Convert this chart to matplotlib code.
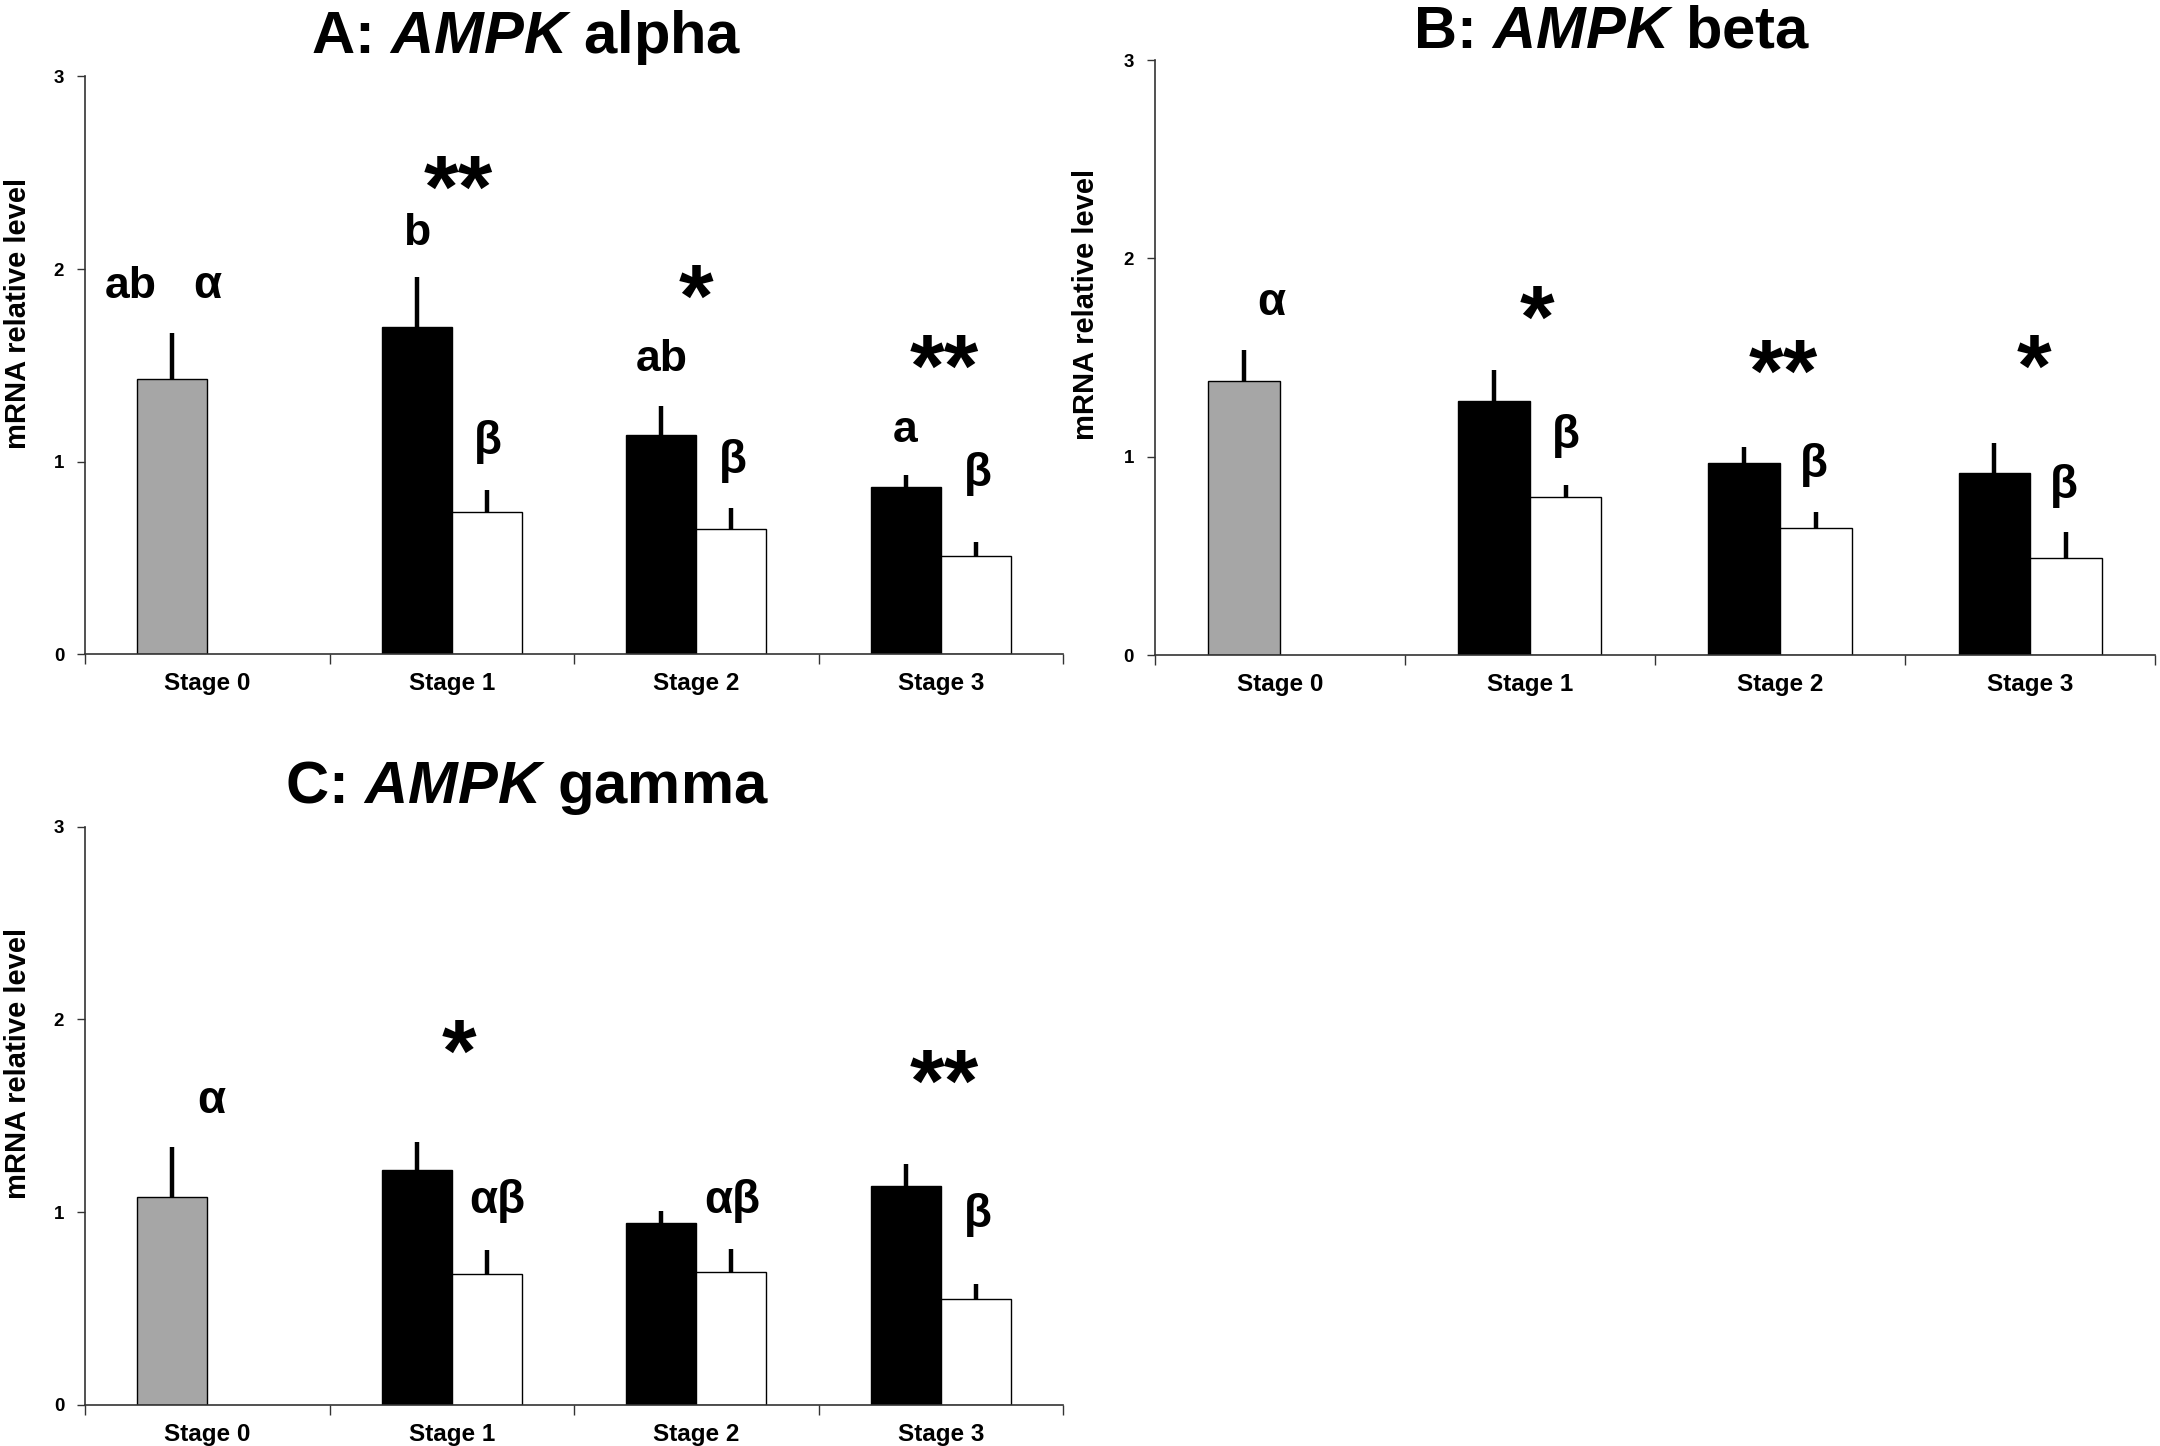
import numpy as np
import matplotlib
matplotlib.use('Agg')
import matplotlib.pyplot as plt

plt.rcParams['font.family'] = ['Liberation Sans', 'DejaVu Sans']
plt.rcParams['mathtext.fontset'] = 'custom'
plt.rcParams['mathtext.rm'] = 'Liberation Sans:bold'
plt.rcParams['mathtext.it'] = 'Liberation Sans:italic:bold'

# Dados
stages = ['Stage 0', 'Stage 1', 'Stage 2', 'Stage 3']

alpha_ctrl, alpha_ctrl_err = 1.43, 0.24
alpha_black = [1.70, 1.14, 0.87]
alpha_black_err = [0.26, 0.15, 0.06]
alpha_white = [0.74, 0.65, 0.51]
alpha_white_err = [0.11, 0.11, 0.07]

beta_ctrl, beta_ctrl_err = 1.38, 0.16
beta_black = [1.28, 0.97, 0.92]
beta_black_err = [0.16, 0.08, 0.15]
beta_white = [0.80, 0.64, 0.49]
beta_white_err = [0.06, 0.08, 0.13]

gamma_ctrl, gamma_ctrl_err = 1.08, 0.26
gamma_black = [1.22, 0.945, 1.135]
gamma_black_err = [0.145, 0.06, 0.115]
gamma_white = [0.68, 0.69, 0.55]
gamma_white_err = [0.125, 0.12, 0.075]

# letras de significância: (x, y da linha de base, texto)
alpha_marks = [(-0.311, 1.849, 'ab'), (0.0, 1.849, 'α'), (0.857, 2.125, 'b'),
               (1.027, 2.27, '**'), (1.147, 1.039, 'β'), (2.0, 1.704, '*'),
               (1.86, 1.470, 'ab'), (2.15, 0.942, 'β'), (3.015, 1.341, '**'),
               (2.853, 1.101, 'a'), (3.15, 0.873, 'β')]
beta_marks = [(-0.035, 1.715, 'α'), (1.03, 1.553, '*'), (1.143, 1.045, 'β'),
              (2.012, 1.281, '**'), (2.135, 0.899, 'β'), (3.016, 1.306, '*'),
              (3.135, 0.793, 'β')]
gamma_marks = [(0.017, 1.515, 'α'), (1.03, 1.681, '*'), (1.188, 0.995, 'αβ'),
               (2.147, 0.995, 'αβ'), (3.015, 1.525, '**'), (3.15, 0.922, 'β')]

W = 0.286


def draw_panel(ax, ctrl, ctrl_err, black, black_err, white, white_err, marks):
    xs = np.arange(1, 4)
    ax.bar([-W / 2], [ctrl], W, color='#a6a6a6', edgecolor='black', linewidth=1.0, zorder=2)
    ax.bar(xs - W / 2, black, W, color='black', edgecolor='black', linewidth=1.0, zorder=2)
    ax.bar(xs + W / 2, white, W, color='white', edgecolor='black', linewidth=1.0, zorder=2)
    # barras de erro só para cima
    ax.errorbar([-W / 2], [ctrl], yerr=[[0], [ctrl_err]], fmt='none', ecolor='black',
                elinewidth=3.2, capsize=0, zorder=1)
    ax.errorbar(xs - W / 2, black, yerr=[np.zeros(3), black_err], fmt='none', ecolor='black',
                elinewidth=3.2, capsize=0, zorder=1)
    ax.errorbar(xs + W / 2, white, yerr=[np.zeros(3), white_err], fmt='none', ecolor='black',
                elinewidth=3.2, capsize=0, zorder=1)

    for x, y, txt in marks:
        if '*' in txt:
            size = 64
        elif txt in ('a', 'b', 'ab'):
            size = 32
        else:
            size = 33
        ax.text(x, y, txt, ha='center', va='baseline', fontsize=size, fontweight='bold')

    ax.set_xlim(-0.5, 3.5)
    ax.set_ylim(0, 3)
    ax.set_yticks([0, 1, 2, 3])
    ax.set_xticks(np.arange(-0.5, 4.0, 1.0))
    ax.set_xticklabels([])
    ax.set_xticks(np.arange(4), minor=True)
    ax.set_xticklabels(stages, minor=True, fontsize=17.5, fontweight='bold')
    ax.tick_params(axis='x', which='major', direction='out', length=7, width=1, color='#333333')
    ax.tick_params(axis='x', which='minor', length=0, pad=13)
    ax.tick_params(axis='y', direction='out', length=6, width=1, color='#333333', pad=9,
                   labelsize=13.5)
    for lab in ax.get_yticklabels():
        lab.set_fontweight('bold')
    for side in ['top', 'right']:
        ax.spines[side].set_visible(False)
    for side in ['left', 'bottom']:
        ax.spines[side].set_color('#333333')
        ax.spines[side].set_linewidth(1.2)
    ax.set_ylabel('mRNA relative level', fontsize=21, fontweight='bold', va='center')
    ax.yaxis.set_label_coords(-0.069, 0.59)


fig = plt.figure(figsize=(21.6, 14.46), dpi=100)
ax_a = fig.add_axes([0.03935, 0.5477, 0.4528, 0.3994])
ax_b = fig.add_axes([0.5347, 0.5468, 0.4630, 0.4117])
ax_c = fig.add_axes([0.03935, 0.02856, 0.4528, 0.3996])

draw_panel(ax_a, alpha_ctrl, alpha_ctrl_err, alpha_black, alpha_black_err,
           alpha_white, alpha_white_err, alpha_marks)
draw_panel(ax_b, beta_ctrl, beta_ctrl_err, beta_black, beta_black_err,
           beta_white, beta_white_err, beta_marks)
draw_panel(ax_c, gamma_ctrl, gamma_ctrl_err, gamma_black, gamma_black_err,
           gamma_white, gamma_white_err, gamma_marks)

# títulos com AMPK em itálico
fig.text(526 / 2160, 1 - 53 / 1446, r'A: $\mathit{AMPK}$ alpha', ha='center', va='baseline',
         fontsize=43, fontweight='bold')
fig.text(1612 / 2160, 1 - 48 / 1446, r'B: $\mathit{AMPK}$ beta', ha='center', va='baseline',
         fontsize=43, fontweight='bold')
fig.text(527 / 2160, 1 - 803 / 1446, r'C: $\mathit{AMPK}$ gamma', ha='center', va='baseline',
         fontsize=43, fontweight='bold')

fig.savefig('out.png', dpi=100)
